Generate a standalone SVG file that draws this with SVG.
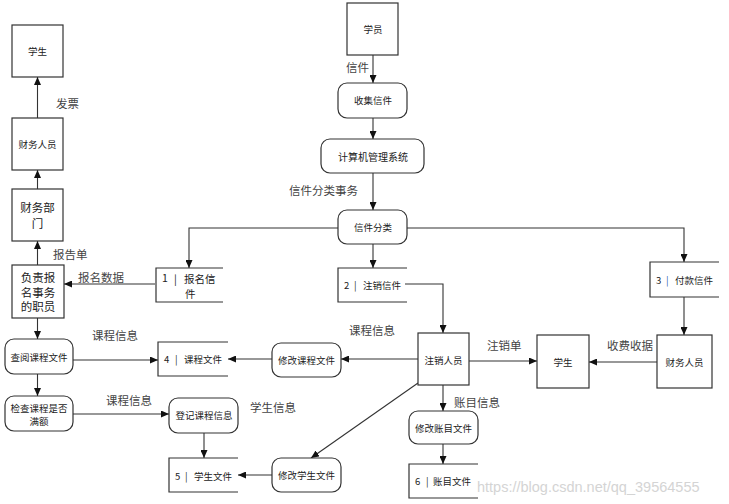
<svg xmlns="http://www.w3.org/2000/svg" width="729" height="504" viewBox="0 0 729 504">
<style>
.b{fill:#fff;stroke:#333;stroke-width:1.2}
.s{fill:none;stroke:#333;stroke-width:1.2}
.c{fill:none;stroke:#333;stroke-width:1.1}
.t{font-family:"Noto Sans CJK SC","Liberation Sans",sans-serif;fill:#222;text-anchor:middle;dominant-baseline:central}
.n{font-size:9.5px}
.m{font-size:11.5px}
.l{font-family:"Noto Sans CJK SC","Liberation Sans",sans-serif;font-size:11.5px;fill:#444;dominant-baseline:central}
.st{font-family:"Noto Sans CJK SC","Liberation Sans",sans-serif;font-size:9.5px;fill:#222;dominant-baseline:central}
</style>
<defs>
<marker id="a" markerUnits="userSpaceOnUse" markerWidth="8" markerHeight="7" refX="8" refY="3.5" orient="auto">
<path d="M0,0 L8,3.5 L0,7 z" fill="#111"/>
</marker>
</defs>
<rect width="729" height="504" fill="#fff"/>
<g id="connectors" class="c" marker-end="url(#a)">
<line x1="37.5" y1="118" x2="37.5" y2="77"/>
<line x1="37.5" y1="189" x2="37.5" y2="170"/>
<line x1="37.5" y1="265" x2="37.5" y2="241"/>
<line x1="155" y1="284" x2="64" y2="284"/>
<line x1="37.5" y1="318" x2="37.5" y2="339"/>
<line x1="73" y1="360" x2="158" y2="360"/>
<line x1="37.5" y1="374" x2="37.5" y2="396"/>
<line x1="73" y1="414" x2="169" y2="414"/>
<line x1="204" y1="433" x2="204" y2="458"/>
<line x1="373" y1="55" x2="373" y2="83"/>
<line x1="373" y1="118" x2="373" y2="139"/>
<line x1="373" y1="173" x2="373" y2="210"/>
<polyline points="338,228 189,228 189,268"/>
<line x1="373" y1="244" x2="373" y2="268"/>
<polyline points="407,228 684,228 684,262"/>
<polyline points="405,284 443,284 443,333"/>
<line x1="418" y1="359" x2="341" y2="359"/>
<line x1="272" y1="359" x2="228" y2="359"/>
<line x1="418" y1="383" x2="311" y2="458"/>
<line x1="272" y1="475" x2="238" y2="475"/>
<line x1="443" y1="385" x2="443" y2="411"/>
<line x1="443" y1="444" x2="443" y2="464"/>
<line x1="469" y1="361" x2="537" y2="361"/>
<line x1="657" y1="362" x2="589" y2="362"/>
<line x1="684" y1="297" x2="684" y2="335"/>
</g>
<g id="student-left"><rect class="b" x="12" y="25" width="51" height="52"/><text class="t n" x="37.5" y="51">学生</text></g>
<g id="finance-staff-left"><rect class="b" x="12" y="118" width="51" height="52"/><text class="t n" x="37.5" y="144">财务人员</text></g>
<g id="finance-dept"><rect class="b" x="12" y="189" width="51" height="52"/><text class="t m" x="37.5" y="207">财务部<tspan x="37.5" dy="15.5">门</tspan></text></g>
<g id="enroll-staff"><rect class="b" x="12" y="265" width="52" height="53"/><text class="t m" x="38" y="277">负责报<tspan x="38" dy="14.5">名事务</tspan><tspan x="38" dy="14.5">的职员</tspan></text></g>
<g id="check-course"><rect class="b" x="5" y="339" width="68" height="35" rx="9"/><text class="t n" x="39" y="357">查阅课程文件</text></g>
<g id="check-full"><rect class="b" x="5" y="396" width="68" height="35" rx="9"/><text class="t n" x="39" y="408">检查课程是否<tspan x="39" dy="12.5">满额</tspan></text></g>
<g id="register-course"><rect class="b" x="169" y="398" width="69" height="35" rx="9"/><text class="t n" x="204" y="415">登记课程信息</text></g>
<g id="trainee"><rect class="b" x="347" y="3" width="51" height="52"/><text class="t n" x="373" y="29">学员</text></g>
<g id="collect"><rect class="b" x="338" y="83" width="69" height="35" rx="9"/><text class="t n" x="373" y="100">收集信件</text></g>
<g id="system"><rect class="b" x="321" y="139" width="103" height="34" rx="9"/><text class="t" style="font-size:10px" x="373" y="156">计算机管理系统</text></g>
<g id="classify"><rect class="b" x="338" y="210" width="69" height="34" rx="9"/><text class="t n" x="373" y="227">信件分类</text></g>
<g id="store1"><polyline class="s" points="223,268 156,268 156,302 223,302"/><text class="st" style="font-size:10.5px" x="162" y="277.5">1<tspan x="174">|</tspan><tspan x="184">报名信</tspan><tspan x="185" dy="15">件</tspan></text></g>
<g id="store2"><polyline class="s" points="407,268 338,268 338,302 407,302"/><text class="st" x="344" y="285">2<tspan x="354">|</tspan><tspan x="363">注销信件</tspan></text></g>
<g id="store3"><polyline class="s" points="719,262 650,262 650,297 719,297"/><text class="st" x="656" y="280">3<tspan x="666" fill="#2a5fb0">|</tspan><tspan x="675">付款信件</tspan></text></g>
<g id="store4"><polyline class="s" points="228,342 158,342 158,376 228,376"/><text class="st" x="164" y="359">4<tspan x="175">|</tspan><tspan x="184">课程文件</tspan></text></g>
<g id="store5"><polyline class="s" points="238,458 169,458 169,492 238,492"/><text class="st" x="175" y="476">5<tspan x="185">|</tspan><tspan x="194">学生文件</tspan></text></g>
<g id="store6"><polyline class="s" points="478,464 409,464 409,498 478,498"/><text class="st" x="415" y="481">6<tspan x="426">|</tspan><tspan x="433">账目文件</tspan></text></g>
<g id="cancel-staff"><rect class="b" x="418" y="333" width="51" height="52"/><text class="t n" x="443.5" y="360">注销人员</text></g>
<g id="modify-course"><rect class="b" x="272" y="343" width="69" height="34" rx="9"/><text class="t n" x="306.5" y="360">修改课程文件</text></g>
<g id="modify-student"><rect class="b" x="272" y="458" width="69" height="34" rx="9"/><text class="t n" x="306.5" y="475">修改学生文件</text></g>
<g id="modify-account"><rect class="b" x="409" y="411" width="69" height="33" rx="9"/><text class="t n" x="443.5" y="428">修改账目文件</text></g>
<g id="student-right"><rect class="b" x="537" y="335" width="52" height="53"/><text class="t n" x="563" y="362">学生</text></g>
<g id="finance-staff-right"><rect class="b" x="657" y="335" width="55" height="53"/><text class="t n" x="684.5" y="362">财务人员</text></g>
<g id="labels">
<text class="l" x="56" y="103">发票</text>
<text class="l" x="53" y="254">报告单</text>
<text class="l" x="78" y="277">报名数据</text>
<text class="l" x="92" y="335">课程信息</text>
<text class="l" x="106" y="400">课程信息</text>
<text class="l" x="250" y="407">学生信息</text>
<text class="l" x="349" y="330">课程信息</text>
<text class="l" x="454" y="402">账目信息</text>
<text class="l" x="487" y="345">注销单</text>
<text class="l" x="607" y="345">收费收据</text>
<text class="l" x="346" y="67">信件</text>
<text class="l" x="289" y="190">信件分类事务</text>
</g>
<text x="477" y="492" style="font-family:'Liberation Sans',sans-serif;font-size:14.5px;fill:#d4d4d4">https://blog.csdn.net/qq_39564555</text>
</svg>
